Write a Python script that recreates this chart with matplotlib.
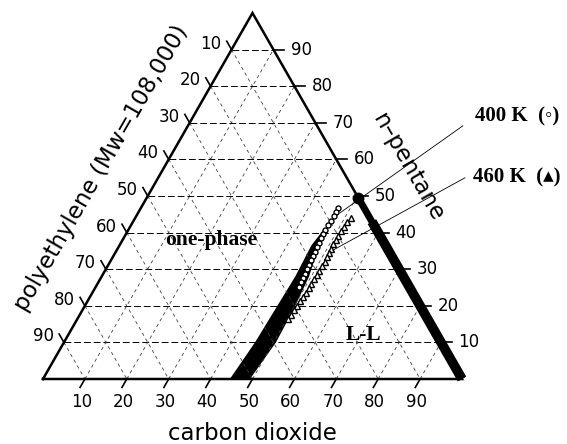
import numpy as np
import matplotlib
matplotlib.use("Agg")
import matplotlib.pyplot as plt

# compositions in wt%: carbon dioxide and n-pentane, polyethylene is the rest
levels = [10, 20, 30, 40, 50, 60, 70, 80, 90]

# polymer-rich branch at 400 K (open circles)
rich_400_co2 = [47.0, 47.1, 47.2, 47.2, 47.1, 47.0, 47.0, 47.1, 47.3, 47.5,
                47.6, 47.7, 47.7, 47.8, 48.0, 48.1, 48.3, 48.4, 48.5]
rich_400_pent = [46.8, 45.6, 44.4, 43.2, 42.0, 40.8, 39.6, 38.4, 37.2, 36.0,
                 34.8, 33.6, 32.4, 31.2, 30.0, 28.8, 27.6, 26.4, 25.2]

# polymer-rich branch at 460 K (open triangles)
rich_460_co2 = [51.5, 51.2, 51.0, 50.9, 50.9, 50.9, 50.9, 50.9, 51.0, 51.2,
                51.2, 51.1, 51.1, 51.1, 51.1, 51.0, 51.0, 50.9, 50.8, 50.7,
                50.6, 50.5, 50.4, 50.3]
rich_460_pent = [44.0, 42.8, 41.6, 40.4, 39.2, 38.0, 36.8, 35.6, 34.4, 33.2,
                 32.0, 30.8, 29.6, 28.4, 27.2, 26.0, 24.8, 23.6, 22.4, 21.2,
                 20.0, 18.8, 17.6, 16.4]

# low pentane part where the symbols merge into a solid band
band_pent = [0, 10, 19, 28, 36.5, 41]
band_co2_left = [44.6, 45.6, 45.9, 46.2, 45.8, 46.6]
band_co2_right = [49.4, 50.6, 50.3, 49.5, 47.6, 46.8]

# polymer-lean phase (practically no polyethylene)
lean_400_pent = [49.5, 45.0, 40.0, 35.0, 30.0, 25.0, 20.0, 15.0, 10.0, 5.0, 0.0]
lean_460_pent = [43.0, 38.0, 33.0, 28.0, 23.0, 18.0, 13.0, 8.0, 3.0, 0.0]

H = np.sqrt(3) / 2


def tern(co2, pent):
    co2 = np.asarray(co2, float)
    pent = np.asarray(pent, float)
    return co2 + pent / 2, pent * H


fig = plt.figure(figsize=(5.67, 4.44), dpi=100)
ax = fig.add_axes([0, 0, 1, 1])
ax.set_xlim(-10.26, 125.06)
ax.set_ylim(-15.38, 89.68)
ax.axis('off')

serif = ['Liberation Serif', 'DejaVu Sans']

# grid + ticks
tl = 2.3
for v in levels:
    # constant n-pentane (horizontal)
    x, y = tern([0, 100 - v], [v, v])
    ax.plot(x, y, color='k', lw=0.7, dashes=(7, 3))
    ax.plot([x[1], x[1] + 2.6], [y[1], y[1]], color='k', lw=1.2)
    ax.text(x[1] + 4.1, y[1], str(v), ha='left', va='center', fontsize=12)
    # constant carbon dioxide
    x, y = tern([v, v], [0, 100 - v])
    ax.plot(x, y, color='0.25', lw=0.6, dashes=(4, 4))
    ax.plot([x[0], x[0] - 0.5 * tl], [0, -H * tl], color='k', lw=1.2)
    ax.text(x[0] - 0.84, -5.44, str(v), ha='center', va='center', fontsize=12)
    # constant polyethylene
    x, y = tern([0, 100 - v], [100 - v, 0])
    ax.plot(x, y, color='0.25', lw=0.6, dashes=(4, 4))
    ax.plot([x[0], x[0] - 0.5 * tl], [y[0], y[0] + H * tl], color='k', lw=1.2)
    ax.text(x[0] - 2.4, y[0] + 1.4, str(v), ha='right', va='center', fontsize=12)

# outline
x, y = tern([0, 100, 0, 0], [0, 0, 100, 0])
ax.plot(x, y, color='k', lw=1.8, solid_joinstyle='miter')

# solid band
bx_l, by_l = tern(band_co2_left, band_pent)
bx_r, by_r = tern(band_co2_right, band_pent)
ax.fill(np.concatenate([bx_l, bx_r[::-1]]), np.concatenate([by_l, by_r[::-1]]),
        color='k', lw=0)

# rich branches
x, y = tern(rich_400_co2, rich_400_pent)
ax.plot(x, y, 'o', ms=3.6, mfc='white', mec='k', mew=1.0)
x, y = tern(rich_460_co2, rich_460_pent)
ax.plot(x, y, '^', ms=3.8, mfc='white', mec='k', mew=1.0)

# lean branches along the right edge
x, y = tern([100 - p for p in lean_460_pent], lean_460_pent)
ax.plot(x, y, color='k', lw=7, solid_capstyle='butt')
x, y = tern([100 - p for p in lean_400_pent], lean_400_pent)
ax.plot(x, y, color='k', lw=5, solid_capstyle='butt')
ax.plot(x[0], y[0], 'o', ms=7.5, color='k')

# labels with pointer lines
ax.text(103.1, 62.0, '400 K  (◦)', family=serif, fontweight='bold',
        fontsize=15, ha='left', va='center')
ex, ey = tern([48.2], [45.4])
ax.plot([100.2, ex[0]], [59.9, ey[0]], color='k', lw=0.6)
ax.text(102.7, 47.6, '460 K  (▴)', family=serif, fontweight='bold',
        fontsize=15, ha='left', va='center')
ex, ey = tern([51.6], [35.2])
ax.plot([100.7, ex[0]], [47.6, ey[0]], color='k', lw=0.6)

ax.text(40.1, 32.9, 'one-phase', family=serif, fontweight='bold',
        fontsize=15.5, ha='center', va='center')
ax.text(76.6, 10.4, 'L-L', family=serif, fontweight='bold',
        fontsize=15.5, ha='center', va='center')

# axis titles
ax.text(50.1, -12.8, 'carbon dioxide', fontsize=16.5, ha='center', va='center')
ax.text(14.0, 49.8, 'polyethylene (Mw=108,000)', fontsize=16.5,
        ha='center', va='center', rotation=60, rotation_mode='anchor')
ax.text(87.1, 50.0, 'n–pentane', fontsize=16.5,
        ha='center', va='center', rotation=-60, rotation_mode='anchor')

fig.savefig('out.png', dpi=100)
